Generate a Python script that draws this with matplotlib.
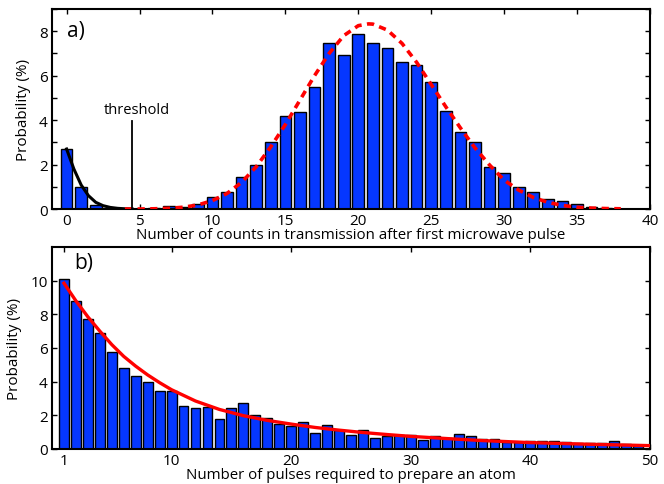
import matplotlib
matplotlib.use("Agg")
import matplotlib.pyplot as plt
import numpy as np

plt.rcParams['font.family'] = ['Open Sans', 'DejaVu Sans']

# ---- Panel a data ----
counts = list(range(0, 40))
prob_a = [2.69, 0.97, 0.18, 0.04, 0.01, 0.02, 0.03, 0.12, 0.08, 0.24,
          0.52, 0.78, 1.43, 1.96, 3.01, 4.18, 4.37, 5.48, 7.46, 6.91,
          7.87, 7.45, 7.24, 6.60, 6.46, 5.72, 4.39, 3.45, 3.03, 1.91,
          1.63, 0.99, 0.78, 0.46, 0.34, 0.21, 0.07, 0.04, 0.02, 0.01]

fit_low_x = [0, 0.5, 1, 1.5, 2, 2.5, 3, 3.5, 4, 4.5]
fit_low_y = [2.7, 1.8, 1.08, 0.6, 0.3, 0.15, 0.07, 0.03, 0.01, 0.0]

fit_high_x = [4, 5, 6, 7, 8, 9, 10, 11, 12, 13, 14, 15, 16, 17, 18, 19, 20, 20.7,
              21, 22, 23, 24, 25, 26, 27, 28, 29, 30, 31, 32, 33, 34, 35, 36, 37, 38]
fit_high_y = [0.0, 0.0, 0.01, 0.03, 0.08, 0.18, 0.38, 0.7, 1.2, 1.9, 2.8, 3.8, 4.9,
              6.0, 7.0, 7.8, 8.25, 8.33, 8.32, 8.05, 7.45, 6.6, 5.6, 4.6, 3.65, 2.75,
              1.98, 1.3, 0.85, 0.52, 0.3, 0.16, 0.08, 0.04, 0.02, 0.01]

threshold_x = 4.5
threshold_top = 3.96

# ---- Panel b data ----
pulses = list(range(1, 50))
prob_b = [10.1, 8.82, 7.74, 6.87, 5.75, 4.84, 4.36, 4.0, 3.42, 3.42,
          2.55, 2.45, 2.49, 1.77, 2.41, 2.71, 2.03, 1.83, 1.49, 1.39,
          1.59, 0.94, 1.43, 1.15, 0.86, 1.13, 0.66, 0.80, 0.84, 0.84,
          0.54, 0.76, 0.68, 0.88, 0.76, 0.62, 0.62, 0.44, 0.44, 0.50,
          0.50, 0.50, 0.40, 0.38, 0.38, 0.38, 0.50, 0.32, 0.15]

fit_b_x = [1, 2, 3, 4, 5, 6, 7, 8, 9, 10, 12, 14, 16, 18, 20, 22, 24, 26, 28,
           30, 33, 36, 40, 45, 50]
fit_b_y = [9.85, 8.8, 7.85, 7.0, 6.2, 5.5, 4.92, 4.4, 3.94, 3.52, 2.85, 2.35,
           1.98, 1.7, 1.48, 1.28, 1.12, 0.98, 0.86, 0.75, 0.62, 0.5, 0.38, 0.28, 0.2]

bar_color = '#0537FF'
W, H = 664, 485
fig = plt.figure(figsize=(W / 100, H / 100), dpi=100)

def style(ax):
    for s in ax.spines.values():
        s.set_linewidth(1.5)
    ax.tick_params(direction='in', top=True, right=True, length=3.5, width=1,
                   labelsize=11, pad=3)

# Panel a
ax1 = fig.add_axes([52 / W, 1 - 210 / H, 598 / W, 200 / H])
ax1.bar(counts, prob_a, width=0.8, color=bar_color, edgecolor='black',
        linewidth=1.0, zorder=2)
ax1.plot(fit_low_x, fit_low_y, color='black', lw=2.2, zorder=3)
ax1.plot(fit_high_x, fit_high_y, color='red', lw=2.6, ls=(0, (2.0, 1.5)), zorder=3)
ax1.plot([threshold_x, threshold_x], [0, threshold_top], color='black', lw=1.3, zorder=3)
ax1.text(4.8, 4.12, 'threshold', ha='center', va='bottom', fontsize=10.5)
ax1.text(0.0, 8.05, 'a)', ha='left', va='center', fontsize=15)
ax1.set_xlim(-1, 40)
ax1.set_ylim(0, 9)
ax1.set_xticks(range(0, 41, 5))
ax1.set_yticks(range(0, 10))
ax1.set_yticklabels([str(v) if v % 2 == 0 else '' for v in range(0, 10)])
ax1.set_xlabel('Number of counts in transmission after first microwave pulse',
               fontsize=10.8, labelpad=-1)
ax1.set_ylabel('Probability (%)', fontsize=11, labelpad=6)
style(ax1)

# Panel b
ax2 = fig.add_axes([52 / W, 1 - 450 / H, 598 / W, 202 / H])
ax2.bar(pulses, prob_b, width=0.82, color=bar_color, edgecolor='black',
        linewidth=1.0, zorder=2)
ax2.plot(fit_b_x, fit_b_y, color='red', lw=2.4, zorder=3)
ax2.text(1.9, 11.1, 'b)', ha='left', va='center', fontsize=15)
ax2.set_xlim(0, 50)
ax2.set_ylim(0, 12)
ax2.set_xticks([1, 10, 20, 30, 40, 50])
ax2.set_yticks([0, 2, 4, 6, 8, 10])
ax2.set_xlabel('Number of pulses required to prepare an atom', fontsize=10.8, labelpad=-1)
ax2.set_ylabel('Probability (%)', fontsize=11, labelpad=6)
style(ax2)

fig.savefig('out.png', dpi=100)
